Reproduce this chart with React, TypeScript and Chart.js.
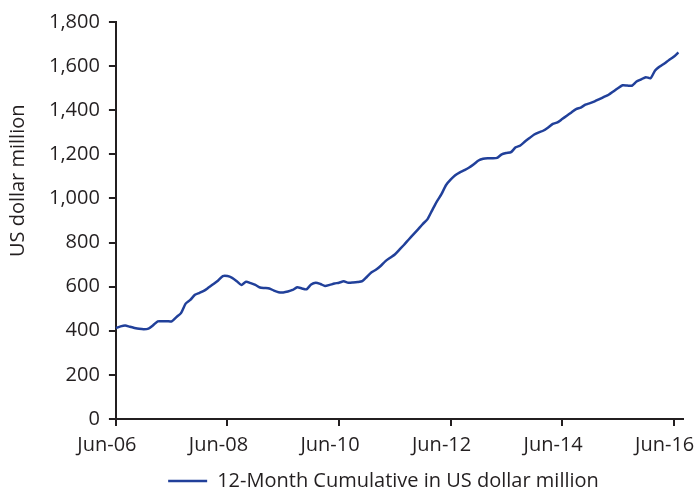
import React, { useEffect, useRef } from "react";
import { Chart, registerables } from "chart.js";

Chart.register(...registerables);

const MONTHS = ["Jan", "Feb", "Mar", "Apr", "May", "Jun", "Jul", "Aug", "Sep", "Oct", "Nov", "Dec"];

// Monthly labels Jun-06 .. Aug-16
const labels: string[] = [];
for (let i = 0; i <= 122; i++) {
  const mi = (5 + i) % 12;
  const yr = 6 + Math.floor((5 + i) / 12);
  labels.push(`${MONTHS[mi]}-${String(yr).padStart(2, "0")}`);
}

const tickLabels = ["Jun-06", "Jun-08", "Jun-10", "Jun-12", "Jun-14", "Jun-16"];

const cumulative: (number | null)[] = [
  412, 420, 424, 418, 413, 409, 407, 410, 425, 443, 443, 443,
  443, 462, 480, 523, 540, 563, 572, 582, 597, 612, 628, 648,
  648, 640, 625, 608, 622, 616, 608, 596, 594, 592, 582, 575,
  574, 578, 585, 597, 592, 588, 610, 618, 612, 603, 608, 614,
  618, 624, 618, 619, 621, 625, 645, 665, 678, 695, 716, 731,
  746, 768, 790, 814, 837, 860, 884, 905, 945, 985, 1018, 1060,
  1085, 1105, 1118, 1128, 1140, 1155, 1172, 1180, 1182, 1182, 1184, 1200,
  1206, 1210, 1232, 1240, 1258, 1274, 1290, 1300, 1308, 1322, 1338, 1345,
  1360, 1375, 1390, 1405, 1412, 1425, 1432, 1440, 1450, 1460, 1470, 1485,
  1500, 1513, 1512, 1511, 1530, 1540, 1550, 1545, 1580, 1598, 1612, 1628,
  1642, 1662, null,
];

const Y_TITLE = "US dollar million";
const SERIES_NAME = "12-Month Cumulative in US dollar million";

const FONT = "'Open Sans', 'DejaVu Sans', sans-serif";
const AXIS = "#231f20";
const LINE = "#21409a";

const legendShift = {
  id: "legendShift",
  afterLayout(chart: any) {
    const l = chart.legend;
    if (!l) return;
    l.left += 22;
    l.right += 22;
    l.top += 7;
    l.bottom += 7;
  },
};

const yTitle = {
  id: "yTitle",
  afterDraw(chart: any) {
    const { ctx, chartArea } = chart;
    const cy = chartArea.top + (chartArea.bottom - chartArea.top) * 0.4;
    ctx.save();
    ctx.translate(18, cy);
    ctx.rotate(-Math.PI / 2);
    ctx.textAlign = "center";
    ctx.textBaseline = "middle";
    ctx.fillStyle = AXIS;
    ctx.font = `20px ${FONT}`;
    ctx.fillText(Y_TITLE, 0, 0);
    ctx.restore();
  },
};

export default function App() {
  const ref = useRef<HTMLCanvasElement | null>(null);
  useEffect(() => {
    document.body.style.margin = "0";
    const chart = new Chart(ref.current!, {
      type: "line",
      data: {
        labels,
        datasets: [
          {
            label: SERIES_NAME,
            data: cumulative,
            borderColor: LINE,
            backgroundColor: LINE,
            borderWidth: 2.5,
            pointRadius: 0,
            tension: 0.2,
          },
        ],
      },
      plugins: [legendShift, yTitle],
      options: {
        animation: false,
        responsive: false,
        layout: { padding: { left: 40, right: 11, top: 22, bottom: 0 } },
        plugins: {
          tooltip: { enabled: false },
          legend: {
            position: "bottom",
            labels: {
              color: AXIS,
              font: { family: FONT, size: 20 },
              usePointStyle: true,
              pointStyle: "line",
              pointStyleWidth: 39,
              boxHeight: 10,
              padding: 0,
            },
          },
        },
        scales: {
          x: {
            type: "category",
            offset: false,
            afterFit: (scale: any) => {
              scale.paddingRight = 0;
            },
            grid: {
              display: true,
              drawOnChartArea: false,
              drawTicks: true,
              tickLength: 7,
              color: AXIS,
              lineWidth: 2,
            },
            border: { color: AXIS, width: 2 },
            ticks: {
              autoSkip: false,
              maxRotation: 0,
              color: AXIS,
              font: { family: FONT, size: 20 },
              padding: 7,
              labelOffset: -9,
              callback: (_v: any, i: number) => {
                const l = labels[i];
                return tickLabels.includes(l) ? l : null;
              },
            },
          },
          y: {
            min: 0,
            max: 1800,
            grid: {
              display: true,
              drawOnChartArea: false,
              drawTicks: true,
              tickLength: 7,
              color: AXIS,
              lineWidth: 2,
            },
            border: { color: AXIS, width: 2 },
            ticks: {
              stepSize: 200,
              color: AXIS,
              font: { family: FONT, size: 20 },
              padding: 9,
              callback: (v: any) => Number(v).toLocaleString("en-US"),
            },
          },
        },
      },
    });
    return () => chart.destroy();
  }, []);
  return (
    <div style={{ position: "fixed", left: 0, top: 0, width: 694, height: 494 }}>
      <canvas ref={ref} width={694} height={494} />
    </div>
  );
}
